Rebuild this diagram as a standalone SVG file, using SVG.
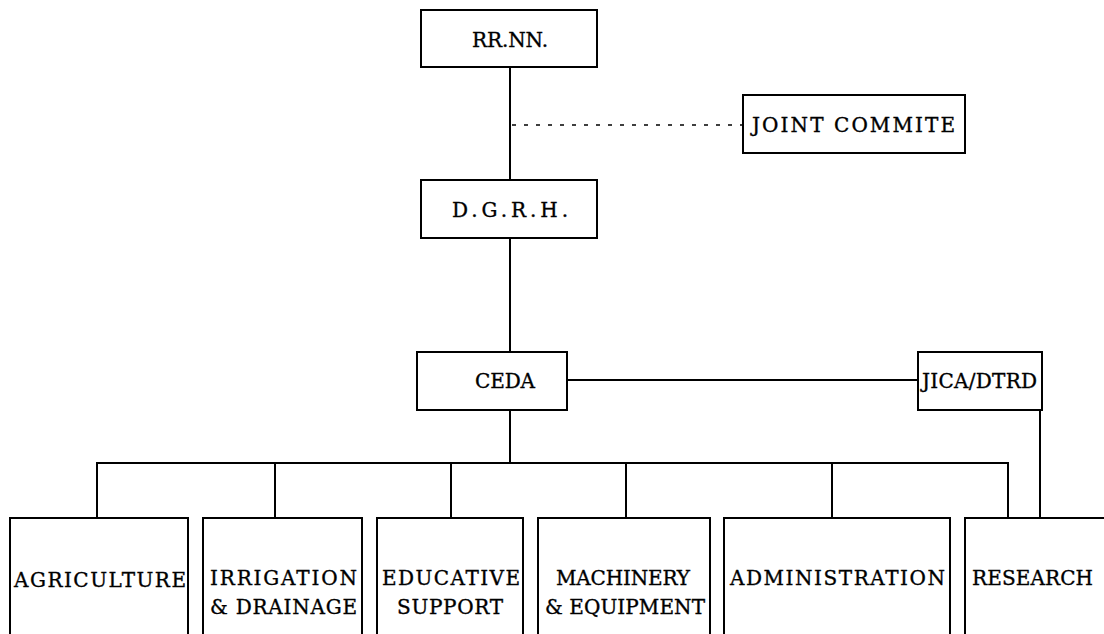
<svg xmlns="http://www.w3.org/2000/svg" width="1104" height="634" viewBox="0 0 1104 634">
<style>
.box{fill:#fff;stroke:#000;stroke-width:2}
.ln{fill:none;stroke:#000;stroke-width:2}
.dash{fill:none;stroke:#000;stroke-width:1.5;stroke-dasharray:4 8}
text{font-family:"DejaVu Serif","Liberation Serif",serif;font-size:20px;fill:#000;stroke:#000;stroke-width:0.35}
</style>
<rect width="1104" height="634" fill="#fff"/>
<g id="connectors">
<line class="ln" x1="510" y1="67" x2="510" y2="180"/>
<line class="dash" x1="512" y1="125" x2="743" y2="125"/>
<line class="ln" x1="510" y1="238" x2="510" y2="352"/>
<line class="ln" x1="567" y1="380" x2="918" y2="380"/>
<line class="ln" x1="510" y1="410" x2="510" y2="463"/>
<polyline class="ln" points="97,518 97,463 1008,463 1008,518"/>
<line class="ln" x1="275" y1="463" x2="275" y2="518"/>
<line class="ln" x1="451" y1="463" x2="451" y2="518"/>
<line class="ln" x1="626" y1="463" x2="626" y2="518"/>
<line class="ln" x1="832" y1="463" x2="832" y2="518"/>
<line class="ln" x1="1040" y1="410" x2="1040" y2="518"/>
</g>
<g id="rrnn"><rect class="box" x="421" y="10" width="176" height="57"/><text x="472" y="47" textLength="76" lengthAdjust="spacing">RR.NN.</text></g>
<g id="joint"><rect class="box" x="743" y="95" width="222" height="58"/><text x="752" y="132" textLength="203" lengthAdjust="spacing">JOINT COMMITE</text></g>
<g id="dgrh"><rect class="box" x="421" y="180" width="176" height="58"/><text x="452" y="217" textLength="116" lengthAdjust="spacing">D.G.R.H.</text></g>
<g id="ceda"><rect class="box" x="417" y="352" width="150" height="58"/><text x="475" y="388" textLength="60" lengthAdjust="spacing">CEDA</text></g>
<g id="jica"><rect class="box" x="918" y="352" width="124" height="58"/><text x="922" y="388" textLength="115" lengthAdjust="spacing">JICA/DTRD</text></g>
<g id="agri"><rect class="box" x="10" y="518" width="178" height="130"/><text x="14" y="587" textLength="172" lengthAdjust="spacing">AGRICULTURE</text></g>
<g id="irri"><rect class="box" x="203" y="518" width="159" height="130"/><text x="210" y="585" textLength="147" lengthAdjust="spacing">IRRIGATION</text><text x="210" y="614" textLength="147" lengthAdjust="spacing">&amp; DRAINAGE</text></g>
<g id="edu"><rect class="box" x="377" y="518" width="146" height="130"/><text x="382" y="585" textLength="138" lengthAdjust="spacing">EDUCATIVE</text><text x="397" y="614" textLength="106" lengthAdjust="spacing">SUPPORT</text></g>
<g id="mach"><rect class="box" x="538" y="518" width="172" height="130"/><text x="556" y="585" textLength="134" lengthAdjust="spacing">MACHINERY</text><text x="545" y="614" textLength="160" lengthAdjust="spacing">&amp; EQUIPMENT</text></g>
<g id="admin"><rect class="box" x="724" y="518" width="226" height="130"/><text x="730" y="585" textLength="215" lengthAdjust="spacing">ADMINISTRATION</text></g>
<g id="research"><rect class="box" x="965" y="518" width="150" height="130"/><text x="972" y="585" textLength="121" lengthAdjust="spacing">RESEARCH</text></g>
</svg>
